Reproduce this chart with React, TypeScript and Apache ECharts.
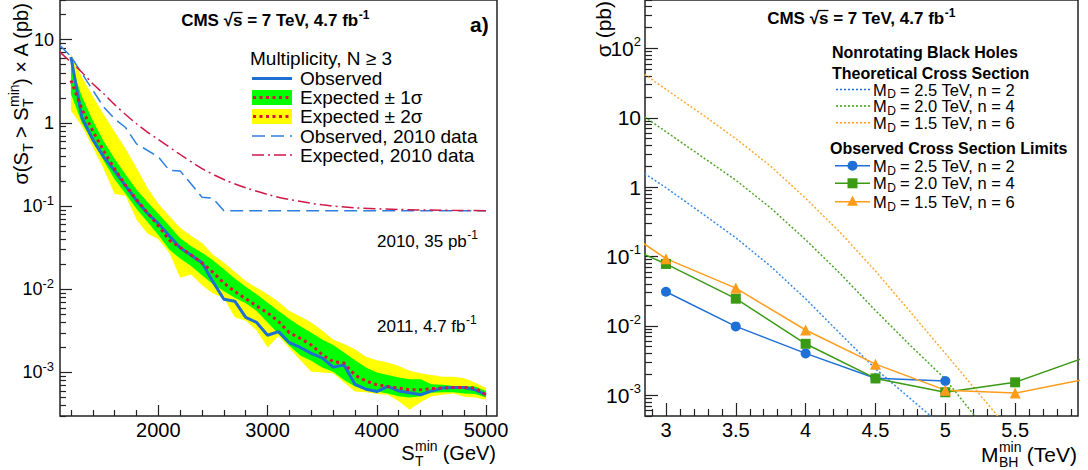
import React, { useEffect, useRef } from 'react';
import * as echarts from 'echarts';

const FONT = '"Liberation Sans", Arial, Helvetica, sans-serif';

// ---------------- Panel a): multiplicity N >= 3 ----------------
const stGeV = [1200, 1300, 1400, 1500, 1600, 1700, 1800, 1900, 2000, 2100, 2200, 2300, 2400, 2500, 2600, 2700, 2800, 2900, 3000, 3100, 3200, 3300, 3400, 3500, 3600, 3700, 3800, 3900, 4000, 4100, 4200, 4300, 4400, 4500, 4600, 4700, 4800, 4900, 5000];
const observed2011 = [6.2, 1.17, 0.63, 0.39, 0.266, 0.175, 0.117, 0.082, 0.062, 0.044, 0.0316, 0.0257, 0.0209, 0.0123, 0.0076, 0.0072, 0.0046, 0.004, 0.0028, 0.0031, 0.00228, 0.002, 0.0017, 0.0015, 0.00116, 0.00123, 0.00072, 0.00063, 0.00059, 0.00068, 0.0006, 0.00057, 0.00054, 0.0006, 0.00065, 0.00066, 0.00066, 0.00062, 0.00054];
const expected2011 = [3.24, 1.47, 0.8, 0.46, 0.28, 0.178, 0.12, 0.083, 0.058, 0.039, 0.0317, 0.0259, 0.0207, 0.016, 0.0119, 0.0094, 0.0077, 0.0063, 0.0052, 0.0041, 0.003, 0.00257, 0.00214, 0.00164, 0.00135, 0.0013, 0.00093, 0.00079, 0.00071, 0.00068, 0.00065, 0.00062, 0.00062, 0.00064, 0.00065, 0.00066, 0.00066, 0.00065, 0.00054];
const twoSigmaHi = [6.8, 3.55, 2.09, 1.26, 0.78, 0.49, 0.29, 0.166, 0.107, 0.076, 0.055, 0.044, 0.036, 0.026, 0.021, 0.0162, 0.0126, 0.0105, 0.0087, 0.0071, 0.0055, 0.0047, 0.004, 0.0032, 0.0025, 0.0022, 0.0019, 0.00155, 0.0014, 0.00132, 0.0012, 0.00105, 0.00098, 0.00093, 0.00089, 0.00089, 0.00085, 0.00076, 0.00065];
const oneSigmaHi = [5.0, 2.09, 1.07, 0.6, 0.37, 0.24, 0.158, 0.112, 0.081, 0.058, 0.041, 0.033, 0.0275, 0.0224, 0.0174, 0.0135, 0.0107, 0.0087, 0.0069, 0.0055, 0.0044, 0.0036, 0.003, 0.0025, 0.00214, 0.00174, 0.0014, 0.00115, 0.001, 0.00093, 0.00087, 0.00083, 0.00083, 0.00072, 0.00071, 0.00069, 0.00069, 0.00068, 0.0006];
const oneSigmaLo = [2.24, 1.0, 0.6, 0.35, 0.21, 0.141, 0.093, 0.065, 0.045, 0.03, 0.0234, 0.019, 0.0148, 0.0115, 0.0095, 0.0079, 0.0068, 0.0055, 0.004, 0.0029, 0.0021, 0.0016, 0.00138, 0.00115, 0.00102, 0.00081, 0.00068, 0.00062, 0.00059, 0.00056, 0.00052, 0.0005, 0.00052, 0.00057, 0.00058, 0.00058, 0.00056, 0.00055, 0.0005];
const twoSigmaLo = [1.41, 0.91, 0.51, 0.28, 0.14, 0.133, 0.069, 0.047, 0.04, 0.0275, 0.0138, 0.0151, 0.0112, 0.0089, 0.0078, 0.0046, 0.0042, 0.0032, 0.002, 0.00275, 0.00195, 0.0014, 0.00102, 0.001, 0.00098, 0.00076, 0.00059, 0.00058, 0.00055, 0.00054, 0.00045, 0.00036, 0.00044, 0.00052, 0.00054, 0.00056, 0.00051, 0.0005, 0.00047];
const st2010Obs = [1100, 1200, 1500, 1600, 1700, 1800, 2000, 2100, 2200, 2400, 2500, 2600, 5000];
const observed2010 = [8.5, 6.3, 1.55, 1.12, 0.88, 0.56, 0.39, 0.27, 0.265, 0.128, 0.124, 0.088, 0.088];
const st2010Exp = [1100, 1200, 1300, 1400, 1500, 1600, 1700, 1800, 1900, 2000, 2200, 2400, 2600, 2800, 3000, 3200, 3500, 3800, 4200, 4600, 5000];
const expected2010 = [7.08, 5.37, 4.07, 2.95, 2.24, 1.66, 1.26, 0.977, 0.776, 0.631, 0.417, 0.282, 0.209, 0.166, 0.138, 0.12, 0.1035, 0.0955, 0.0912, 0.0891, 0.0881];
const stMajorTicks = [2000, 3000, 4000, 5000];
const stMinorTicks = [1200, 1400, 1600, 1800, 2200, 2400, 2600, 2800, 3200, 3400, 3600, 3800, 4200, 4400, 4600, 4800];
const sigmaMajorLeft = [0.001, 0.01, 0.1, 1, 10];

// ---------------- Panel b): black holes ----------------
const mbhTheory = [2.8, 3.0, 3.25, 3.5, 3.75, 4.0, 4.25, 4.5, 4.75, 5.0, 5.25, 5.5];
const theoryMD25n2 = [1.82, 0.98, 0.43, 0.186, 0.072, 0.0245, 0.0076, 0.0024, 0.00089, 0.00033];
const theoryMD20n4 = [12.0, 6.3, 2.82, 1.26, 0.5, 0.174, 0.056, 0.0166, 0.0052, 0.0017, 0.0004];
const theoryMD15n6 = [49, 25.7, 11.5, 5.0, 2.0, 0.69, 0.219, 0.0617, 0.0158, 0.004, 0.001, 0.00025];
const mbhLimitBlue = [3.0, 3.5, 4.0, 4.5, 5.0];
const limitMD25n2 = [0.031, 0.0098, 0.004, 0.00175, 0.0016];
const mbhLimit = [2.5, 3.0, 3.5, 4.0, 4.5, 5.0, 5.5, 6.0];
const limitMD20n4 = [0.216, 0.078, 0.0246, 0.0055, 0.00174, 0.0011, 0.00153, 0.0035];
const limitMD15n6 = [0.45, 0.093, 0.035, 0.0087, 0.0028, 0.00118, 0.00107, 0.0017];
const mbhMajorTicks = [3, 3.5, 4, 4.5, 5, 5.5];
const mbhMinorTicks = [2.9, 3.1, 3.2, 3.3, 3.4, 3.6, 3.7, 3.8, 3.9, 4.1, 4.2, 4.3, 4.4, 4.6, 4.7, 4.8, 4.9, 5.1, 5.2, 5.3, 5.4, 5.6, 5.7, 5.8, 5.9];
const sigmaMajorRight = [0.001, 0.01, 0.1, 1, 10, 100];

// colours
const C_OBS = '#1d6fd0';
const C_EXP = '#e0103c';
const C_OBS10 = '#2c7fe0';
const C_EXP10 = '#d01848';
const C_BLUE = '#1f70d6';
const C_GREEN = '#3a9a14';
const C_ORANGE = '#ff9c1a';

const zip = (xs: number[], ys: number[]) => ys.map((y, i) => [xs[i], y]);

function logMinor(lo: number, hi: number) {
  const out: number[] = [];
  for (let e = -5; e <= 3; e++) {
    for (let k = 2; k <= 9; k++) {
      const v = Number((k * Math.pow(10, e)).toPrecision(3));
      if (v >= lo && v <= hi) out.push(v);
    }
  }
  return out;
}

let mctx: CanvasRenderingContext2D | null = null;
function textWidth(s: string, size: number, bold: boolean) {
  if (!mctx) mctx = document.createElement('canvas').getContext('2d');
  mctx!.font = `${bold ? 'bold ' : ''}${size}px ${FONT}`;
  return mctx!.measureText(s).width;
}

function txt(s: string, x: number, y: number, size: number, bold: boolean, color: string) {
  return {
    type: 'text', x, y, silent: true, z: 100,
    style: {
      text: s, fontSize: size, fontFamily: FONT, fontWeight: bold ? 'bold' : 'normal', fill: color,
      textAlign: 'left', textVerticalAlign: 'middle', align: 'left', verticalAlign: 'middle',
    },
  };
}

type Part = { t?: string; sub?: string; sup?: string; over?: boolean };
function mathText(parts: Part[], x: number, y: number, size: number, opts: { bold?: boolean; color?: string; anchor?: string; subOff?: number; supOff?: number; ratio?: number } = {}) {
  const bold = !!opts.bold;
  const color = opts.color || '#000';
  const small = Math.round(size * (opts.ratio ?? 0.7));
  const subOff = opts.subOff ?? 0.36;
  const supOff = opts.supOff ?? 0.35;
  const widths = parts.map((p) => p.t !== undefined ? textWidth(p.t, size, bold)
    : Math.max(p.sub ? textWidth(p.sub, small, bold) : 0, p.sup ? textWidth(p.sup, small, bold) : 0));
  const total = widths.reduce((a, b) => a + b, 0);
  let cx = opts.anchor === 'right' ? x - total : opts.anchor === 'center' ? x - total / 2 : x;
  const els: any[] = [];
  parts.forEach((p, i) => {
    if (p.t !== undefined) {
      els.push(txt(p.t, cx, y, size, bold, color));
      if (p.over) {
        els.push({ type: 'line', silent: true, z: 100, shape: { x1: cx - 1, y1: y - size * 0.47, x2: cx + widths[i], y2: y - size * 0.47 }, style: { stroke: color, lineWidth: 1.3 } });
      }
    } else {
      if (p.sub) els.push(txt(p.sub, cx + 0.5, y + size * subOff, small, bold, color));
      if (p.sup) els.push(txt(p.sup, cx + 0.5, y - size * supOff, small, bold, color));
    }
    cx += widths[i];
  });
  return els;
}

function powLabel(v: number) {
  const n = Math.round(Math.log10(v));
  if (n === 0) return '1';
  if (n === 1) return '10';
  return `{b|10}{s|${n}}`;
}

function buildOption() {
  const leftMinorY = logMinor(3e-4, 30);
  const rightMinorY = logMinor(5e-4, 500);
  const tickStyle = { color: '#222', width: 1.2 };
  const noLine = { show: false };
  const noSplit = { show: false };
  const richLeft = {
    b: { fontSize: 18, fontFamily: FONT, color: '#000' },
    s: { fontSize: 13, fontFamily: FONT, color: '#000', padding: [0, 0, 12, 0] },
  };
  const richRight = {
    b: { fontSize: 21, fontFamily: FONT, color: '#000' },
    s: { fontSize: 13, fontFamily: FONT, color: '#000', padding: [0, 0, 13, 0] },
  };

  const band = (hi: number[], lo: number[], fill: string) => ({
    type: 'custom', xAxisIndex: 0, yAxisIndex: 0, silent: true, clip: true,
    data: [[stGeV[0], expected2011[0]]],
    renderItem: (_p: any, api: any) => {
      const pts: number[][] = [];
      for (let i = 0; i < stGeV.length; i++) pts.push(api.coord([stGeV[i], hi[i]]));
      for (let i = stGeV.length - 1; i >= 0; i--) pts.push(api.coord([stGeV[i], lo[i]]));
      return { type: 'polygon', shape: { points: pts }, style: { fill, stroke: null } };
    },
  });

  const limitData = (xs: number[], ys: number[]) => ys.map((y, i) => (xs[i] < 2.85 || xs[i] > 5.95)
    ? { value: [xs[i], y], symbol: 'none' } : { value: [xs[i], y] });

  const graphics: any[] = [];
  // ----- left panel texts -----
  graphics.push(...mathText([{ t: 'CMS ' }, { t: '√' }, { t: 's', over: true }, { t: ' = 7 TeV, 4.7 fb' }, { sup: '-1' }], 275, 20.5, 17, { bold: true, anchor: 'center' }));
  graphics.push(txt('a)', 470, 24, 21, true, '#000'));
  graphics.push(txt('Multiplicity, N ≥ 3', 250, 58, 19, false, '#000'));
  graphics.push({ type: 'line', silent: true, z: 100, shape: { x1: 252, y1: 78.5, x2: 292, y2: 78.5 }, style: { stroke: C_OBS, lineWidth: 3 } });
  graphics.push(txt('Observed', 300, 78.5, 19, false, '#000'));
  graphics.push({ type: 'rect', silent: true, z: 99, shape: { x: 252, y: 90, width: 40, height: 15 }, style: { fill: '#00ff00' } });
  graphics.push({ type: 'line', silent: true, z: 100, shape: { x1: 253, y1: 97.5, x2: 292, y2: 97.5 }, style: { stroke: C_EXP, lineWidth: 3, lineDash: [3, 3.5] } });
  graphics.push(txt('Expected ± 1σ', 300, 97.5, 19, false, '#000'));
  graphics.push({ type: 'rect', silent: true, z: 99, shape: { x: 252, y: 109, width: 40, height: 15 }, style: { fill: '#ffff00' } });
  graphics.push({ type: 'line', silent: true, z: 100, shape: { x1: 253, y1: 116.5, x2: 292, y2: 116.5 }, style: { stroke: C_EXP, lineWidth: 3, lineDash: [3, 3.5] } });
  graphics.push(txt('Expected ± 2σ', 300, 116.5, 19, false, '#000'));
  graphics.push({ type: 'line', silent: true, z: 100, shape: { x1: 252, y1: 136, x2: 292, y2: 136 }, style: { stroke: C_OBS10, lineWidth: 1.5, lineDash: [13, 6] } });
  graphics.push(txt('Observed, 2010 data', 300, 136, 19, false, '#000'));
  graphics.push({ type: 'line', silent: true, z: 100, shape: { x1: 252, y1: 155, x2: 292, y2: 155 }, style: { stroke: C_EXP10, lineWidth: 1.5, lineDash: [12, 4, 2, 4] } });
  graphics.push(txt('Expected, 2010 data', 300, 155, 19, false, '#000'));
  graphics.push(...mathText([{ t: '2010, 35 pb' }, { sup: '-1' }], 377, 241, 17));
  graphics.push(...mathText([{ t: '2011, 4.7 fb' }, { sup: '-1' }], 377, 326, 17));
  graphics.push(...mathText([{ t: 'S' }, { sub: 'T', sup: 'min' }, { t: ' (GeV)' }], 496, 453, 20, { anchor: 'right', supOff: 0.36, subOff: 0.42, ratio: 0.68 }));
  graphics.push({
    type: 'group', x: 21, y: 1, rotation: Math.PI / 2,
    children: mathText([{ t: 'σ(S' }, { sub: 'T' }, { t: ' > S' }, { sub: 'T', sup: 'min' }, { t: ') × A (pb)' }], 0, 0, 20, { anchor: 'right' }),
  });

  // ----- right panel texts -----
  graphics.push(...mathText([{ t: 'CMS ' }, { t: '√' }, { t: 's', over: true }, { t: ' = 7 TeV, 4.7 fb' }, { sup: '-1' }], 861, 18.5, 17, { bold: true, anchor: 'center' }));
  graphics.push(txt('Nonrotating Black Holes', 832, 52, 16, true, '#000'));
  graphics.push(txt('Theoretical Cross Section', 832, 73, 16, true, '#000'));
  const thLeg = [[89.5, C_BLUE, '2.5', '2'], [106, C_GREEN, '2.0', '4'], [122.7, C_ORANGE, '1.5', '6']] as const;
  thLeg.forEach(([y, c, md, n]) => {
    graphics.push({ type: 'line', silent: true, z: 100, shape: { x1: 836, y1: y, x2: 870, y2: y }, style: { stroke: c, lineWidth: 1.5, lineDash: [2, 2] } });
    graphics.push(...mathText([{ t: 'M' }, { sub: 'D' }, { t: ` = ${md} TeV, n = ${n}` }], 873, y, 16.5, { subOff: 0.3 }));
  });
  graphics.push(txt('Observed Cross Section Limits', 830, 148.3, 16, true, '#000'));
  const obLeg = [[165.7, C_BLUE, '2.5', '2', 'circle'], [183.3, C_GREEN, '2.0', '4', 'rect'], [201.7, C_ORANGE, '1.5', '6', 'tri']] as const;
  obLeg.forEach(([y, c, md, n, m]) => {
    graphics.push({ type: 'line', silent: true, z: 100, shape: { x1: 835, y1: y, x2: 870, y2: y }, style: { stroke: c, lineWidth: 1.5 } });
    if (m === 'circle') graphics.push({ type: 'circle', silent: true, z: 101, shape: { cx: 852.5, cy: y, r: 5 }, style: { fill: c } });
    if (m === 'rect') graphics.push({ type: 'rect', silent: true, z: 101, shape: { x: 847.5, y: y - 5, width: 10, height: 10 }, style: { fill: c } });
    if (m === 'tri') graphics.push({ type: 'polygon', silent: true, z: 101, shape: { points: [[852.5, y - 6], [858, y + 4], [847, y + 4]] }, style: { fill: c } });
    graphics.push(...mathText([{ t: 'M' }, { sub: 'D' }, { t: ` = ${md} TeV, n = ${n}` }], 873, y, 16.5, { subOff: 0.3 }));
  });
  graphics.push(...mathText([{ t: 'M' }, { sub: 'BH', sup: 'min' }, { t: ' (TeV)' }], 1077, 454, 21, { anchor: 'right', supOff: 0.34, subOff: 0.4, ratio: 0.66 }));
  graphics.push({
    type: 'group', x: 603, y: 1, rotation: Math.PI / 2,
    children: mathText([{ t: 'σ (pb)' }], 0, 0, 21, { anchor: 'right' }),
  });

  return {
    animation: false,
    backgroundColor: '#ffffff',
    textStyle: { fontFamily: FONT },
    grid: [
      { left: 60, top: 0, width: 437, height: 416, show: true, borderColor: '#222', borderWidth: 1.5, backgroundColor: 'transparent', containLabel: false, outerBoundsMode: 'none' },
      { left: 645, top: 0, width: 433, height: 416, show: true, borderColor: '#222', borderWidth: 1.5, backgroundColor: 'transparent', containLabel: false, outerBoundsMode: 'none' },
    ],
    xAxis: [
      {
        gridIndex: 0, type: 'value', min: 1100, max: 5100, position: 'bottom', axisLine: noLine, splitLine: noSplit,
        axisTick: { show: true, inside: true, length: 11, customValues: stMajorTicks, lineStyle: tickStyle },
        axisLabel: { customValues: stMajorTicks, margin: 4, fontSize: 20, color: '#000', fontFamily: FONT, formatter: (v: number) => String(v) },
      },
      {
        gridIndex: 0, type: 'value', min: 1100, max: 5100, position: 'bottom', axisLine: noLine, splitLine: noSplit,
        axisTick: { show: true, inside: true, length: 6, customValues: stMinorTicks, lineStyle: tickStyle },
        axisLabel: { show: false },
      },
      {
        gridIndex: 1, type: 'value', min: 2.85, max: 5.95, position: 'bottom', axisLine: noLine, splitLine: noSplit,
        axisTick: { show: true, inside: true, length: 13, customValues: mbhMajorTicks, lineStyle: tickStyle },
        axisLabel: { customValues: mbhMajorTicks, margin: 4, fontSize: 20, color: '#000', fontFamily: FONT, formatter: (v: number) => String(Math.round(v * 10) / 10) },
      },
      {
        gridIndex: 1, type: 'value', min: 2.85, max: 5.95, position: 'bottom', axisLine: noLine, splitLine: noSplit,
        axisTick: { show: true, inside: true, length: 7, customValues: mbhMinorTicks, lineStyle: tickStyle },
        axisLabel: { show: false },
      },
    ],
    yAxis: [
      {
        gridIndex: 0, type: 'log', logBase: 10, min: 3e-4, max: 30, position: 'left', axisLine: noLine, splitLine: noSplit,
        axisTick: { show: true, inside: true, length: 12, customValues: sigmaMajorLeft, lineStyle: tickStyle },
        axisLabel: { customValues: sigmaMajorLeft, margin: 6, fontSize: 18, color: '#000', fontFamily: FONT, formatter: powLabel, rich: richLeft },
      },
      {
        gridIndex: 0, type: 'log', logBase: 10, min: 3e-4, max: 30, position: 'left', axisLine: noLine, splitLine: noSplit,
        axisTick: { show: true, inside: true, length: 6, customValues: leftMinorY, lineStyle: tickStyle },
        axisLabel: { show: false },
      },
      {
        gridIndex: 1, type: 'log', logBase: 10, min: 5e-4, max: 500, position: 'left', axisLine: noLine, splitLine: noSplit,
        axisTick: { show: true, inside: true, length: 13, customValues: sigmaMajorRight, lineStyle: tickStyle },
        axisLabel: { customValues: sigmaMajorRight, margin: 4, fontSize: 21, color: '#000', fontFamily: FONT, formatter: powLabel, rich: richRight },
      },
      {
        gridIndex: 1, type: 'log', logBase: 10, min: 5e-4, max: 500, position: 'left', axisLine: noLine, splitLine: noSplit,
        axisTick: { show: true, inside: true, length: 7, customValues: rightMinorY, lineStyle: tickStyle },
        axisLabel: { show: false },
      },
    ],
    series: [
      band(twoSigmaHi, twoSigmaLo, '#ffff00'),
      band(oneSigmaHi, oneSigmaLo, '#00ff00'),
      {
        type: 'line', xAxisIndex: 0, yAxisIndex: 0, data: zip(st2010Obs, observed2010), showSymbol: false, silent: true,
        lineStyle: { color: C_OBS10, width: 1.5, type: [13, 6] },
      },
      {
        type: 'line', xAxisIndex: 0, yAxisIndex: 0, data: zip(st2010Exp, expected2010), showSymbol: false, silent: true, smooth: 0.3,
        lineStyle: { color: C_EXP10, width: 1.5, type: [12, 4, 2, 4] },
      },
      {
        type: 'line', xAxisIndex: 0, yAxisIndex: 0, data: zip(stGeV, observed2011), showSymbol: false, silent: true,
        lineStyle: { color: C_OBS, width: 3 },
      },
      {
        type: 'line', xAxisIndex: 0, yAxisIndex: 0, data: zip(stGeV, expected2011), showSymbol: false, silent: true,
        lineStyle: { color: C_EXP, width: 3, type: [3, 3.5] },
      },
      // right panel theory
      {
        type: 'line', xAxisIndex: 2, yAxisIndex: 2, data: zip(mbhTheory, theoryMD25n2), showSymbol: false, silent: true, clip: true,
        lineStyle: { color: '#3b8ae6', width: 1.5, type: [2, 2] },
      },
      {
        type: 'line', xAxisIndex: 2, yAxisIndex: 2, data: zip(mbhTheory, theoryMD20n4), showSymbol: false, silent: true, clip: true,
        lineStyle: { color: '#4aa528', width: 1.5, type: [2, 2] },
      },
      {
        type: 'line', xAxisIndex: 2, yAxisIndex: 2, data: zip(mbhTheory, theoryMD15n6), showSymbol: false, silent: true, clip: true,
        lineStyle: { color: '#ffaa33', width: 1.5, type: [2, 2] },
      },
      {
        type: 'line', xAxisIndex: 2, yAxisIndex: 2, data: limitData(mbhLimitBlue, limitMD25n2), symbol: 'circle', symbolSize: 10, silent: true, clip: true,
        lineStyle: { color: C_BLUE, width: 1.5 }, itemStyle: { color: C_BLUE, borderWidth: 0 },
      },
      {
        type: 'line', xAxisIndex: 2, yAxisIndex: 2, data: limitData(mbhLimit, limitMD20n4), symbol: 'rect', symbolSize: 10, silent: true, clip: true,
        lineStyle: { color: C_GREEN, width: 1.5 }, itemStyle: { color: C_GREEN, borderWidth: 0 },
      },
      {
        type: 'line', xAxisIndex: 2, yAxisIndex: 2, data: limitData(mbhLimit, limitMD15n6), symbol: 'triangle', symbolSize: 11, silent: true, clip: true,
        lineStyle: { color: C_ORANGE, width: 1.5 }, itemStyle: { color: C_ORANGE, borderWidth: 0 },
      },
    ],
    graphic: { elements: graphics },
  };
}

export default function App() {
  const ref = useRef<HTMLDivElement>(null);
  useEffect(() => {
    if (!ref.current) return;
    const chart = echarts.init(ref.current, undefined, { renderer: 'svg' });
    chart.setOption(buildOption() as any);
    return () => chart.dispose();
  }, []);
  return (
    <div
      ref={ref}
      style={{ position: 'fixed', left: 0, top: 0, width: 1088, height: 470, background: '#fff' }}
    />
  );
}
